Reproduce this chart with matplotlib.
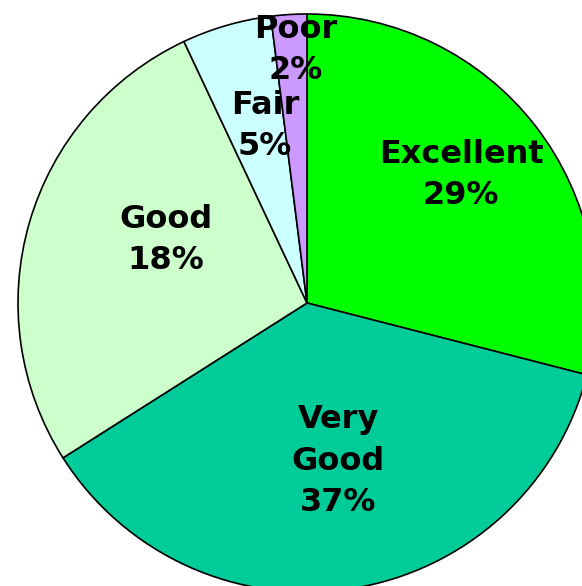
import matplotlib.pyplot as plt

categories = ['Excellent', 'Very\nGood', 'Good', 'Fair', 'Poor']
sizes = [29, 37, 27, 5, 2]
pct_labels = ['29%', '37%', '18%', '5%', '2%']
colors = ['#00FF00', '#00CC99', '#CCFFCC', '#CCFFFF', '#CC99FF']

# label centres in pixel coords (x, y from top)
label_pos = [(461, 175), (338, 461), (166, 240), (265, 126), (296, 50)]

W, H = 582, 586
fig = plt.figure(figsize=(W / 100, H / 100), dpi=100)
ax = fig.add_axes([0, 0, 1, 1])

ax.pie(sizes, colors=colors, startangle=90, counterclock=False,
       center=(307, -303), radius=289, frame=True,
       wedgeprops=dict(edgecolor='black', linewidth=1.2))
ax.set_xlim(0, W)
ax.set_ylim(-H, 0)
ax.set_aspect('equal')
ax.axis('off')

for cat, pct, (x, y) in zip(categories, pct_labels, label_pos):
    ax.text(x, -y, cat + '\n' + pct, ha='center', va='center',
            fontsize=23, fontweight='bold', family='DejaVu Sans',
            linespacing=1.45, color='black')

fig.savefig('out.png', dpi=100)
